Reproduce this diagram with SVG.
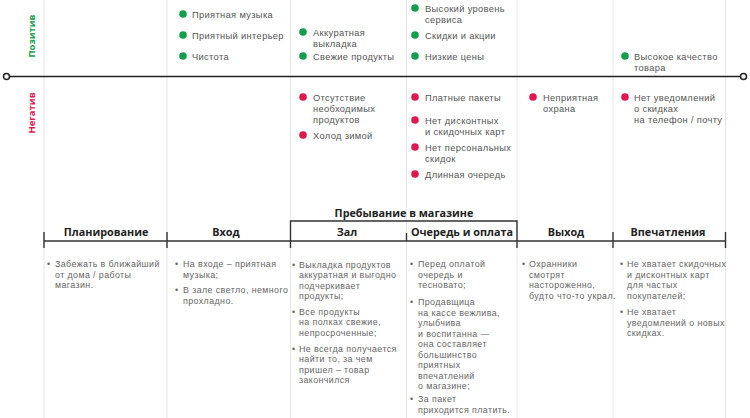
<svg xmlns="http://www.w3.org/2000/svg" width="750" height="418" viewBox="0 0 750 418">
<style>
text{font-family:"Open Sans","Liberation Sans",sans-serif}
.sep{stroke:#e6e6e6;stroke-width:1}
.axis{stroke:#222;stroke-width:1.6;fill:none}
.end{fill:#fff;stroke:#222;stroke-width:1.5}
.it{font-family:"Liberation Sans",Arial,sans-serif;font-size:9.3px;letter-spacing:0.35px;fill:#555}
.b{font-family:"Liberation Sans",Arial,sans-serif;font-size:8.9px;letter-spacing:0.4px;fill:#666}
.g{fill:#11a04a}
.r{fill:#e3174f}
.lbl{font-size:9.5px;font-weight:bold}
.st{font-size:10.8px;font-weight:bold;fill:#222;text-anchor:middle}
.tl{stroke:#333;stroke-width:1.4;fill:none}
</style>
<g id="grid">
<line class="sep" x1="44" y1="0" x2="44" y2="418"/>
<line class="sep" x1="167" y1="0" x2="167" y2="418"/>
<line class="sep" x1="290.5" y1="0" x2="290.5" y2="418"/>
<line class="sep" x1="406.5" y1="0" x2="406.5" y2="418"/>
<line class="sep" x1="517" y1="0" x2="517" y2="418"/>
<line class="sep" x1="613" y1="0" x2="613" y2="418"/>
<line class="sep" x1="725.5" y1="0" x2="725.5" y2="418"/>
</g>
<g id="axis">
<line class="axis" x1="9" y1="76.5" x2="741" y2="76.5"/>
<circle class="end" cx="6.5" cy="76.5" r="3"/>
<circle class="end" cx="743.5" cy="76.5" r="3"/>
<text class="lbl g" transform="translate(34.5,36) rotate(-90)" text-anchor="middle">Позитив</text>
<text class="lbl r" transform="translate(34.5,113) rotate(-90)" text-anchor="middle">Негатив</text>
</g>
<g id="positive">
<circle class="g" cx="183" cy="14" r="3.8"/><text class="it" x="192" y="17.5">Приятная музыка</text>
<circle class="g" cx="183" cy="35" r="3.8"/><text class="it" x="192" y="38.5">Приятный интерьер</text>
<circle class="g" cx="183" cy="56" r="3.8"/><text class="it" x="192" y="59.5">Чистота</text>
<circle class="g" cx="303" cy="32" r="3.8"/><text class="it" x="313" y="35.5">Аккуратная</text><text class="it" x="313" y="46.5">выкладка</text>
<circle class="g" cx="303" cy="56" r="3.8"/><text class="it" x="313" y="59.5">Свежие продукты</text>
<circle class="g" cx="415" cy="8" r="3.8"/><text class="it" x="425" y="11.5">Высокий уровень</text><text class="it" x="425" y="22.5">сервиса</text>
<circle class="g" cx="415" cy="35" r="3.8"/><text class="it" x="425" y="38.5">Скидки и акции</text>
<circle class="g" cx="415" cy="56" r="3.8"/><text class="it" x="425" y="59.5">Низкие цены</text>
<circle class="g" cx="625" cy="56" r="3.8"/><text class="it" x="634" y="59.5">Высокое качество</text><text class="it" x="634" y="71">товара</text>
</g>
<g id="negative">
<circle class="r" cx="303" cy="97" r="3.8"/><text class="it" x="313" y="100.5">Отсутствие</text><text class="it" x="313" y="111.5">необходимых</text><text class="it" x="313" y="122.5">продуктов</text>
<circle class="r" cx="303" cy="135" r="3.8"/><text class="it" x="313" y="138.5">Холод зимой</text>
<circle class="r" cx="415" cy="97" r="3.8"/><text class="it" x="425" y="100.5">Платные пакеты</text>
<circle class="r" cx="415" cy="120" r="3.8"/><text class="it" x="425" y="123.5">Нет дисконтных</text><text class="it" x="425" y="134.5">и скидочных карт</text>
<circle class="r" cx="415" cy="147" r="3.8"/><text class="it" x="425" y="150.5">Нет персональных</text><text class="it" x="425" y="161.5">скидок</text>
<circle class="r" cx="415" cy="174" r="3.8"/><text class="it" x="425" y="177.5">Длинная очередь</text>
<circle class="r" cx="533" cy="97" r="3.8"/><text class="it" x="543" y="100.5">Неприятная</text><text class="it" x="543" y="111.5">охрана</text>
<circle class="r" cx="625" cy="97" r="3.8"/><text class="it" x="634" y="100.5">Нет уведомлений</text><text class="it" x="634" y="111.5">о скидках</text><text class="it" x="634" y="122.5">на телефон / почту</text>
</g>
<g id="stages">
<path class="tl" d="M44,241 H726"/>
<path class="tl" d="M44,232 V248 M167,232 V248 M613,232 V248 M725.5,232 V248 M406.5,233 V241"/>
<path class="tl" d="M290.5,248 V221 H517 V248"/>
<text class="st" x="404" y="216.5">Пребывание в магазине</text>
<text class="st" x="106" y="236">Планирование</text>
<text class="st" x="226" y="236">Вход</text>
<text class="st" x="347" y="236">Зал</text>
<text class="st" x="462" y="236">Очередь и оплата</text>
<text class="st" x="566" y="236">Выход</text>
<text class="st" x="668" y="236">Впечатления</text>
</g>
<g id="notes">
<text class="b" x="47" y="267">•</text>
<text class="b" x="55" y="267">Забежать в ближайший</text><text class="b" x="55" y="277.5">от дома / работы</text><text class="b" x="55" y="288">магазин.</text>
<text class="b" x="175" y="267">•</text>
<text class="b" x="183" y="267">На входе – приятная</text><text class="b" x="183" y="277.5">музыка;</text>
<text class="b" x="175" y="293">•</text>
<text class="b" x="183" y="293">В зале светло, немного</text><text class="b" x="183" y="303.5">прохладно.</text>
<text class="b" x="292" y="268">•</text>
<text class="b" x="299" y="268">Выкладка продуктов</text><text class="b" x="299" y="278.4">аккуратная и выгодно</text><text class="b" x="299" y="288.8">подчеркивает</text><text class="b" x="299" y="299.2">продукты;</text>
<text class="b" x="292" y="315">•</text>
<text class="b" x="299" y="315">Все продукты</text><text class="b" x="299" y="325.4">на полках свежие,</text><text class="b" x="299" y="335.8">непросроченные;</text>
<text class="b" x="292" y="352">•</text>
<text class="b" x="299" y="352">Не всегда получается</text><text class="b" x="299" y="362.4">найти то, за чем</text><text class="b" x="299" y="372.8">пришел – товар</text><text class="b" x="299" y="383.2">закончился</text>
<text class="b" x="410" y="267">•</text>
<text class="b" x="418" y="267">Перед оплатой</text><text class="b" x="418" y="277.5">очередь и</text><text class="b" x="418" y="288">тесновато;</text>
<text class="b" x="410" y="305">•</text>
<text class="b" x="418" y="305">Продавщица</text><text class="b" x="418" y="315.5">на кассе вежлива,</text><text class="b" x="418" y="326">улыбчива</text><text class="b" x="418" y="336.5">и воспитанна —</text><text class="b" x="418" y="347">она составляет</text><text class="b" x="418" y="357.5">большинство</text><text class="b" x="418" y="368">приятных</text><text class="b" x="418" y="378.5">впечатлений</text><text class="b" x="418" y="389">о магазине;</text>
<text class="b" x="410" y="402">•</text>
<text class="b" x="418" y="402">За пакет</text><text class="b" x="418" y="412.5">приходится платить.</text>
<text class="b" x="522" y="267">•</text>
<text class="b" x="529" y="267">Охранники</text><text class="b" x="529" y="277.5">смотрят</text><text class="b" x="529" y="288">настороженно,</text><text class="b" x="529" y="298.5">будто что-то украл.</text>
<text class="b" x="620" y="267">•</text>
<text class="b" x="627" y="267">Не хватает скидочных</text><text class="b" x="627" y="277.5">и дисконтных карт</text><text class="b" x="627" y="288">для частых</text><text class="b" x="627" y="298.5">покупателей;</text>
<text class="b" x="620" y="315">•</text>
<text class="b" x="627" y="315">Не хватает</text><text class="b" x="627" y="325.5">уведомлений о новых</text><text class="b" x="627" y="336">скидках.</text>
</g>
</svg>
